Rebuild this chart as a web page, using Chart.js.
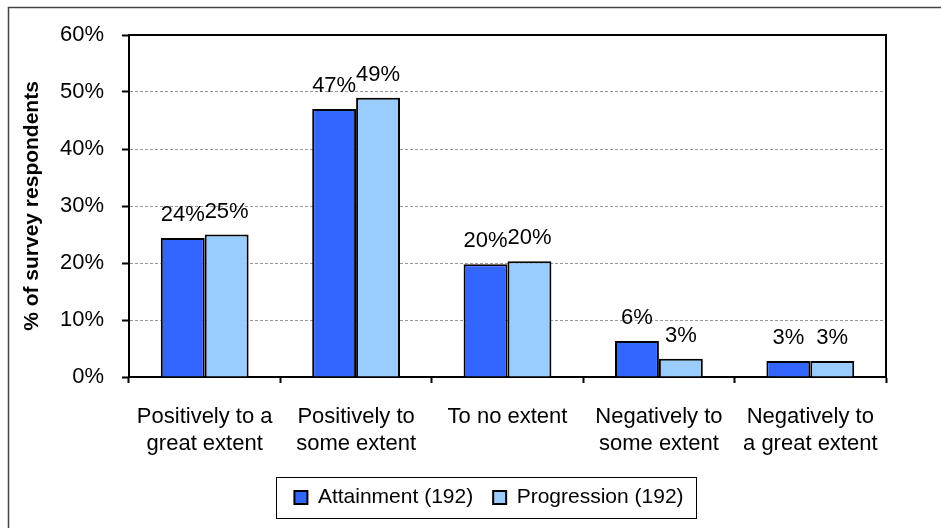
<!DOCTYPE html>
<html>
<head>
<meta charset="utf-8">
<script src="https://cdn.jsdelivr.net/npm/chart.js@4.4.0/dist/chart.umd.min.js"></script>
<style>
  html, body { margin: 0; padding: 0; background: #fff; }
  #wrap { position: relative; width: 941px; height: 528px; }
</style>
</head>
<body>
<div id="wrap"><canvas id="c" width="941" height="528"></canvas></div>
<script>
// chart data
const categories = [
  ['Positively to a', 'great extent'],
  ['Positively to', 'some extent'],
  ['To no extent'],
  ['Negatively to', 'some extent'],
  ['Negatively to', 'a great extent'],
];
const seriesNames = ['Attainment (192)', 'Progression (192)'];
const attainment = [24.4, 47, 19.8, 6.3, 2.8];
const progression = [25, 49, 20.3, 3.2, 2.8];
const yMax = 60;
const yStep = 10;

const FONT = '"Liberation Sans", Arial, sans-serif';

// value labels above each bar
const barLabels = {
  id: 'barLabels',
  afterDatasetsDraw(chart) {
    const ctx = chart.ctx;
    ctx.save();
    ctx.font = `22px ${FONT}`;
    ctx.fillStyle = '#000';
    ctx.textAlign = 'center';
    ctx.textBaseline = 'alphabetic';
    chart.data.datasets.forEach((ds, i) => {
      chart.getDatasetMeta(i).data.forEach((bar, j) => {
        ctx.fillText(Math.round(ds.data[j]) + '%', bar.x, bar.y - 17);
      });
    });
    ctx.restore();
  },
};

// plot-area box, outer frame and legend box
const frames = {
  id: 'frames',
  afterLayout(chart) {
    const lg = chart.legend;
    const w = lg.right - lg.left;
    const h = lg.bottom - lg.top;
    lg.left = 489 - w / 2;
    lg.right = lg.left + w;
    lg.top = 467;
    lg.bottom = lg.top + h;
  },
  afterDraw(chart) {
    const { ctx, chartArea: a } = chart;
    ctx.save();
    ctx.strokeStyle = '#000';
    ctx.lineWidth = 2;
    ctx.beginPath();
    ctx.moveTo(a.left, a.top);
    ctx.lineTo(a.right, a.top);
    ctx.lineTo(a.right, a.bottom);
    ctx.stroke();

    // outer frame (top and left edges visible)
    ctx.strokeStyle = '#444';
    ctx.lineWidth = 1.5;
    ctx.beginPath();
    ctx.moveTo(941, 7.5);
    ctx.lineTo(8.5, 7.5);
    ctx.lineTo(8.5, 528);
    ctx.stroke();

    // legend box
    const boxes = chart.legend.legendHitBoxes;
    if (boxes && boxes.length) {
      const minX = Math.min(...boxes.map((b) => b.left));
      const maxX = Math.max(...boxes.map((b) => b.left + b.width));
      const midY = boxes[0].top + boxes[0].height / 2;
      ctx.strokeStyle = '#000';
      ctx.lineWidth = 1;
      ctx.strokeRect(Math.round(minX - 18) + 0.5, Math.round(midY - 21) + 0.5, Math.round(maxX - minX + 31), 41);
    }
    ctx.restore();
  },
};

new Chart(document.getElementById('c'), {
  type: 'bar',
  data: {
    labels: categories,
    datasets: [
      {
        label: seriesNames[0],
        data: attainment,
        backgroundColor: '#3366FF',
        borderColor: '#000',
        borderWidth: 2,
        borderSkipped: 'bottom',
        categoryPercentage: 0.58,
        barPercentage: 1,
      },
      {
        label: seriesNames[1],
        data: progression,
        backgroundColor: '#99CCFF',
        borderColor: '#000',
        borderWidth: 2,
        borderSkipped: 'bottom',
        categoryPercentage: 0.58,
        barPercentage: 1,
      },
    ],
  },
  options: {
    responsive: false,
    animation: false,
    devicePixelRatio: 1,
    layout: { padding: { left: 10, right: 55, top: 35, bottom: 0 } },
    plugins: {
      legend: {
        position: 'bottom',
        labels: {
          color: '#000',
          font: { family: FONT, size: 21 },
          boxWidth: 13,
          boxHeight: 13,
          padding: 20,
        },
      },
      tooltip: { enabled: false },
    },
    scales: {
      x: {
        grid: {
          display: true,
          drawOnChartArea: false,
          drawTicks: true,
          tickLength: 6,
          tickColor: '#000',
          tickWidth: 2,
          color: '#000',
        },
        border: { display: true, color: '#000', width: 2 },
        ticks: {
          color: '#000',
          font: { family: FONT, size: 22 },
          padding: 21,
          maxRotation: 0,
          autoSkip: false,
        },
        afterFit: (s) => { s.height = 100; },
      },
      y: {
        min: 0,
        max: yMax,
        ticks: {
          stepSize: yStep,
          color: '#000',
          font: { family: FONT, size: 22 },
          padding: 18,
          callback: (v) => v + '%',
        },
        grid: {
          color: '#999',
          lineWidth: 1,
          tickLength: 7,
          tickColor: '#000',
          tickWidth: 2,
          tickBorderDash: [],
        },
        border: { display: true, color: '#000', width: 2, dash: [3, 2] },
        title: {
          display: true,
          text: '% of survey respondents',
          color: '#000',
          font: { family: FONT, size: 21, weight: 'bold' },
          padding: { top: 10, bottom: 0 },
        },
        afterFit: (s) => { s.width = 119; },
      },
    },
  },
  plugins: [barLabels, frames],
});
</script>
</body>
</html>
